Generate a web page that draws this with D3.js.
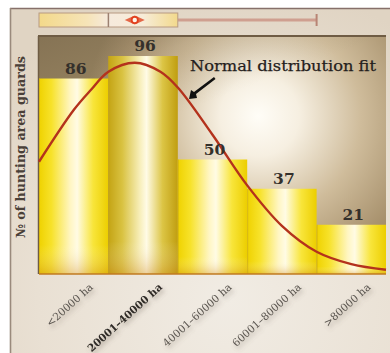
<!DOCTYPE html>
<html>
<head>
<meta charset="utf-8">
<script src="https://cdn.jsdelivr.net/npm/d3@7"></script>
<style>
  html, body { margin: 0; padding: 0; background: #ffffff; }
  svg { display: block; }
</style>
</head>
<body>
<div id="chart"></div>
<script>
// Hunting areas grouped by size, and how many guards work in each group
const categories = ["<20000 ha", "20001–40000 ha", "40001–60000 ha", "60001–80000 ha", ">80000 ha"];
const guards = [86, 96, 50, 37, 21];
const binEdgesHa = [0, 20000, 40000, 60000, 80000, 100000];

// Box plot of hunting area size (ha)
const areaMin = 0, areaQ1 = 0, areaMedian = 20000, areaQ3 = 40000, areaMean = 27600, areaMax = 80000;

// Fitted normal curve, sampled along the area axis
const fitHa = [0, 10000, 15000, 20000, 27600, 35000, 40000, 50000, 60000, 70000, 80000, 90000, 100000];
const fitGuards = [49, 72, 81, 89, 93, 89, 82, 61, 38.5, 20.5, 9, 3.5, 1];

const yTitle = "№ of hunting area guards";
const fitLabel = "Normal distribution fit";

const W = 390, H = 353;
const plot = { left: 39, right: 386, top: 36, bottom: 274 };

const svg = d3.select("#chart").append("svg")
  .attr("width", W).attr("height", H)
  .attr("viewBox", `0 0 ${W} ${H}`);

const defs = svg.append("defs");

// page background
const pageGrad = defs.append("radialGradient").attr("id", "pageBg")
  .attr("gradientUnits", "userSpaceOnUse")
  .attr("cx", 230).attr("cy", 300).attr("r", 320);
pageGrad.append("stop").attr("offset", 0).attr("stop-color", "#f1ece4");
pageGrad.append("stop").attr("offset", 0.6).attr("stop-color", "#e9e0d3");
pageGrad.append("stop").attr("offset", 1).attr("stop-color", "#e0d4c3");

// plot panel: bright glow on the right, brown toward the edges
const panelGrad = defs.append("radialGradient").attr("id", "panelBg")
  .attr("gradientUnits", "userSpaceOnUse")
  .attr("cx", 265).attr("cy", 118).attr("r", 180)
  .attr("fx", 258).attr("fy", 116);
panelGrad.append("stop").attr("offset", 0).attr("stop-color", "#fffdf7");
panelGrad.append("stop").attr("offset", 0.22).attr("stop-color", "#f6efe1");
panelGrad.append("stop").attr("offset", 0.55).attr("stop-color", "#cfbc9b");
panelGrad.append("stop").attr("offset", 0.85).attr("stop-color", "#aa9470");
panelGrad.append("stop").attr("offset", 1).attr("stop-color", "#95825f");

// darker wash in the upper left of the panel
const panelShade = defs.append("linearGradient").attr("id", "panelShade")
  .attr("x1", 0).attr("y1", 0).attr("x2", 0.55).attr("y2", 1);
panelShade.append("stop").attr("offset", 0).attr("stop-color", "#76644a").attr("stop-opacity", 0.5);
panelShade.append("stop").attr("offset", 0.2).attr("stop-color", "#76644a").attr("stop-opacity", 0.14);
panelShade.append("stop").attr("offset", 0.42).attr("stop-color", "#76644a").attr("stop-opacity", 0);

// bar fills
function barGradient(id, stops) {
  const g = defs.append("linearGradient").attr("id", id)
    .attr("x1", 0).attr("y1", 0).attr("x2", 1).attr("y2", 0);
  stops.forEach(([o, c]) => g.append("stop").attr("offset", o).attr("stop-color", c));
}
barGradient("barYellow", [[0, "#efd200"], [0.18, "#f7e22a"], [0.45, "#fff6c2"], [0.55, "#fffbe4"], [0.78, "#f8e53a"], [1, "#ecce00"]]);
barGradient("barGold", [[0, "#c4a414"], [0.2, "#d9c241"], [0.45, "#f7eeb8"], [0.55, "#fffbe6"], [0.78, "#dcc545"], [1, "#c09e10"]]);

const barVert = defs.append("linearGradient").attr("id", "barVert")
  .attr("x1", 0).attr("y1", 0).attr("x2", 0).attr("y2", 1);
barVert.append("stop").attr("offset", 0).attr("stop-color", "#ffffff").attr("stop-opacity", 0);
barVert.append("stop").attr("offset", 0.85).attr("stop-color", "#ffffff").attr("stop-opacity", 0);
barVert.append("stop").attr("offset", 1).attr("stop-color", "#c8801a").attr("stop-opacity", 0.35);

// box plot fill
const boxGrad = defs.append("linearGradient").attr("id", "boxFill")
  .attr("x1", 0).attr("y1", 0).attr("x2", 1).attr("y2", 0);
[[0, "#f3d98a"], [0.35, "#f6e4b8"], [0.5, "#f6eadc"], [0.75, "#f7ecd8"], [1, "#f2d98c"]]
  .forEach(([o, c]) => boxGrad.append("stop").attr("offset", o).attr("stop-color", c));

// soft shadow under axis labels
const shadow = defs.append("filter").attr("id", "labelShadow")
  .attr("x", "-20%").attr("y", "-50%").attr("width", "150%").attr("height", "250%");
shadow.append("feDropShadow").attr("dx", 2).attr("dy", 3).attr("stdDeviation", 2)
  .attr("flood-color", "#6e6458").attr("flood-opacity", 0.45);

// ---- page frame ----
svg.append("rect").attr("x", 10).attr("y", 8).attr("width", W - 10).attr("height", H - 8)
  .attr("fill", "url(#pageBg)");
svg.append("line").attr("x1", 10).attr("x2", W).attr("y1", 8.5).attr("y2", 8.5)
  .attr("stroke", "#86706a").attr("stroke-width", 1.6);
svg.append("line").attr("x1", 10.5).attr("x2", 10.5).attr("y1", 8).attr("y2", H)
  .attr("stroke", "#9a8a7c").attr("stroke-width", 1.6);

// ---- scales ----
const x = d3.scaleBand().domain(categories).range([plot.left, plot.right]).paddingInner(0).paddingOuter(0);
const xHa = d3.scaleLinear().domain([binEdgesHa[0], binEdgesHa[binEdgesHa.length - 1]]).range([plot.left, plot.right]);
const y = d3.scaleLinear().domain([0, 104.9]).range([plot.bottom - 2, plot.top]);

// ---- box plot of area size ----
const boxTop = 13, boxBottom = 27, boxMid = 20;
const bp = svg.append("g");
bp.append("line")
  .attr("x1", xHa(areaQ3)).attr("x2", xHa(areaMax)).attr("y1", boxMid).attr("y2", boxMid)
  .attr("stroke", "#cf9f90").attr("stroke-width", 3);
bp.append("line")
  .attr("x1", xHa(areaMax)).attr("x2", xHa(areaMax)).attr("y1", boxTop + 1).attr("y2", boxBottom - 1)
  .attr("stroke", "#b88474").attr("stroke-width", 2);
bp.append("line")
  .attr("x1", xHa(areaMin)).attr("x2", xHa(areaQ1)).attr("y1", boxMid).attr("y2", boxMid)
  .attr("stroke", "#cf9f90").attr("stroke-width", 3);
bp.append("rect")
  .attr("x", xHa(areaQ1)).attr("y", boxTop)
  .attr("width", xHa(areaQ3) - xHa(areaQ1)).attr("height", boxBottom - boxTop)
  .attr("fill", "url(#boxFill)").attr("stroke", "#b89a82").attr("stroke-width", 1);
bp.append("line")
  .attr("x1", xHa(areaMedian)).attr("x2", xHa(areaMedian)).attr("y1", boxTop).attr("y2", boxBottom)
  .attr("stroke", "#9c8070").attr("stroke-width", 1.5);
const mx = xHa(areaMean);
bp.append("path")
  .attr("d", `M${mx - 10},${boxMid} L${mx},${boxMid - 4.5} L${mx + 10},${boxMid} L${mx},${boxMid + 4.5} Z`)
  .attr("fill", "#e0502e").attr("opacity", 0.85);
bp.append("circle").attr("cx", mx).attr("cy", boxMid).attr("r", 4).attr("fill", "#e2401e");
bp.append("circle").attr("cx", mx).attr("cy", boxMid).attr("r", 2.2).attr("fill", "#fff6ea");

// ---- plot panel ----
svg.append("rect")
  .attr("x", plot.left).attr("y", plot.top)
  .attr("width", plot.right - plot.left).attr("height", plot.bottom - plot.top)
  .attr("fill", "url(#panelBg)");
svg.append("rect")
  .attr("x", plot.left).attr("y", plot.top)
  .attr("width", plot.right - plot.left).attr("height", plot.bottom - plot.top)
  .attr("fill", "url(#panelShade)");
svg.append("line").attr("x1", plot.left - 1).attr("x2", plot.right).attr("y1", plot.top).attr("y2", plot.top)
  .attr("stroke", "#6f5c44").attr("stroke-width", 2);
svg.append("line").attr("x1", plot.left - 0.5).attr("x2", plot.left - 0.5).attr("y1", plot.top).attr("y2", plot.bottom)
  .attr("stroke", "#6f5c44").attr("stroke-width", 1.5);

// ---- bars ----
const bars = svg.append("g");
bars.selectAll("rect.bar")
  .data(guards)
  .join("rect")
  .attr("class", "bar")
  .attr("x", (d, i) => x(categories[i]))
  .attr("y", d => y(d))
  .attr("width", x.bandwidth())
  .attr("height", d => plot.bottom - y(d))
  .attr("fill", (d, i) => i === 1 ? "url(#barGold)" : "url(#barYellow)");
bars.selectAll("rect.shade")
  .data(guards)
  .join("rect")
  .attr("class", "shade")
  .attr("x", (d, i) => x(categories[i]))
  .attr("y", d => y(d))
  .attr("width", x.bandwidth())
  .attr("height", d => plot.bottom - y(d))
  .attr("fill", "url(#barVert)");
bars.selectAll("line.sep")
  .data(guards)
  .join("line")
  .attr("class", "sep")
  .attr("x1", (d, i) => x(categories[i]) + 0.5)
  .attr("x2", (d, i) => x(categories[i]) + 0.5)
  .attr("y1", d => y(d))
  .attr("y2", plot.bottom)
  .attr("stroke", "#c9a614").attr("stroke-opacity", 0.6).attr("stroke-width", 1);
svg.append("line")
  .attr("x1", plot.left).attr("x2", plot.right).attr("y1", plot.bottom).attr("y2", plot.bottom)
  .attr("stroke", "#c07a20").attr("stroke-width", 1.6);

// ---- fitted curve ----
const fitLine = d3.line()
  .x((d, i) => xHa(fitHa[i]))
  .y(d => y(d))
  .curve(d3.curveCatmullRom.alpha(0.5));
svg.append("path")
  .datum(fitGuards)
  .attr("d", fitLine)
  .attr("fill", "none")
  .attr("stroke", "#b4321c")
  .attr("stroke-width", 2.4);

// ---- value labels ----
svg.append("g").selectAll("text")
  .data(guards)
  .join("text")
  .attr("x", (d, i) => x(categories[i]) + x.bandwidth() / 2 + 2)
  .attr("y", d => y(d) - 5)
  .attr("text-anchor", "middle")
  .attr("font-family", "'DejaVu Serif', serif")
  .attr("font-weight", "bold")
  .attr("font-size", 15.5)
  .attr("fill", "#34302b")
  .text(d => d);

// ---- curve annotation ----
const annX = 190, annY = 71;
svg.append("text")
  .attr("x", annX).attr("y", annY)
  .attr("font-family", "'DejaVu Serif', serif")
  .attr("font-size", 15.5)
  .attr("fill", "#24201c")
  .attr("stroke", "#24201c").attr("stroke-width", 0.25)
  .attr("textLength", 186)
  .attr("lengthAdjust", "spacingAndGlyphs")
  .text(fitLabel);
svg.append("path")
  .attr("d", `M${annX + 24},${annY + 6} L${annX + 25.5},${annY + 8} L${annX + 6},${annY + 23}
              L${annX + 7},${annY + 27} L${annX - 1},${annY + 28} L${annX + 1},${annY + 19}
              L${annX + 4},${annY + 21} Z`)
  .attr("fill", "#111111");

// ---- y title ----
svg.append("text")
  .attr("transform", `translate(25,${(plot.top + plot.bottom) / 2 - 8}) rotate(-90)`)
  .attr("text-anchor", "middle")
  .attr("font-family", "'DejaVu Serif', serif")
  .attr("font-weight", "bold")
  .attr("font-size", 12.5)
  .attr("fill", "#4a4038")
  .attr("textLength", 182)
  .attr("lengthAdjust", "spacingAndGlyphs")
  .text(yTitle);

// ---- x tick labels ----
svg.append("g").attr("filter", "url(#labelShadow)")
  .selectAll("text")
  .data(categories)
  .join("text")
  .attr("transform", d => `translate(${x(d) + x.bandwidth() / 2 + 20},${plot.bottom + 14}) rotate(-42)`)
  .attr("text-anchor", "end")
  .attr("font-family", "'DejaVu Serif', serif")
  .attr("font-size", 10.5)
  .attr("font-weight", (d, i) => i === 1 ? "bold" : "normal")
  .attr("fill", (d, i) => i === 1 ? "#2e2a26" : "#5a554f")
  .text(d => d);
</script>
</body>
</html>
